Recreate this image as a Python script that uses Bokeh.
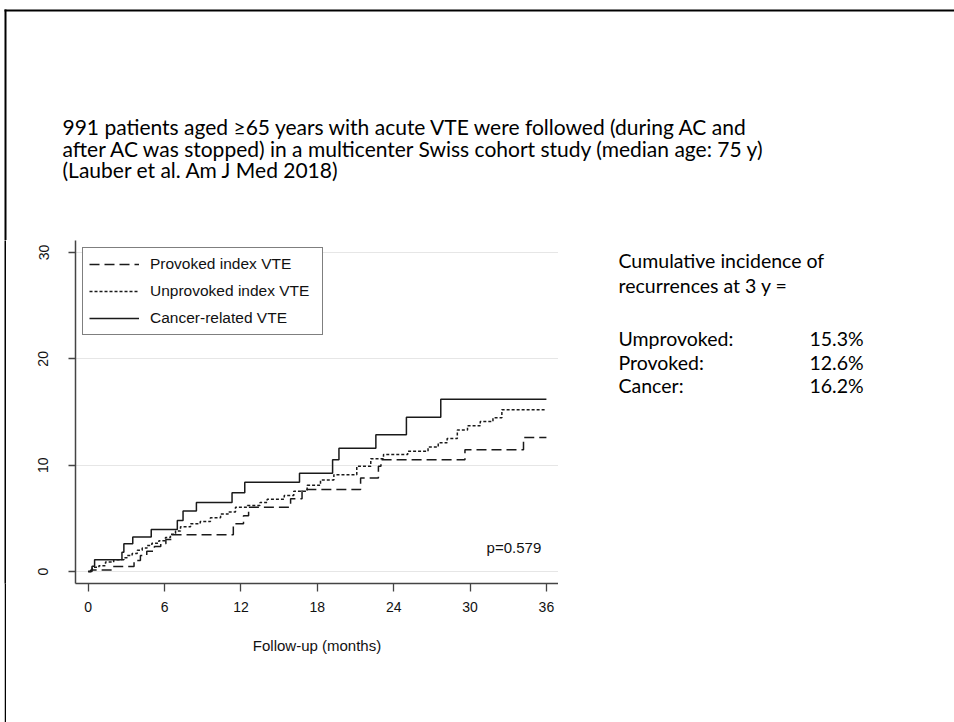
from bokeh.plotting import figure
from bokeh.layouts import column, row
from bokeh.models import Label, Legend, LegendItem, FixedTicker, Range1d, Spacer
from bokeh.embed import file_html
from bokeh.resources import INLINE

# ---------------- data ----------------
provoked_t = [0, 0.2, 1.9, 3.6, 4.1, 4.6, 5.2, 5.7, 6.1, 6.6, 11.4, 12.2, 12.6,
              15.9, 16.8, 21.4, 22.8, 23.0, 29.6, 34.2, 36.0]
provoked_v = [0, 0.15, 0.47, 1.03, 1.5, 1.9, 2.35, 2.6, 3.0, 3.45, 4.5, 5.25, 6.05,
              6.85, 7.7, 8.8, 9.9, 10.5, 11.45, 12.6, 12.6]

unprov_t = [0, 0.31, 0.84, 1.36, 2.0, 2.8, 3.06, 3.45, 3.85, 4.24, 4.63, 5.0, 5.55,
            6.07, 6.46, 6.86, 7.25, 8.04, 8.8, 9.6, 10.4, 11.0, 11.57, 12.5, 13.5,
            14.06, 15.4, 16.15, 17.2, 18.25, 19.3, 21.1, 22.2, 23.2, 25.1, 26.7,
            27.5, 28.2, 29.0, 29.8, 30.8, 31.8, 32.5, 36.0]
unprov_v = [0, 0.4, 0.55, 0.9, 1.1, 1.3, 1.5, 1.7, 2.0, 2.2, 2.45, 2.65, 2.9,
            3.2, 3.5, 3.8, 4.2, 4.5, 4.7, 5.05, 5.4, 5.6, 6.05, 6.2, 6.5,
            6.8, 7.15, 7.55, 8.1, 8.6, 9.1, 9.9, 10.6, 11.0, 11.3, 11.7,
            12.1, 12.5, 13.3, 13.7, 14.1, 14.45, 15.2, 15.2]

cancer_t = [0, 0.3, 0.5, 2.65, 2.8, 3.5, 4.95, 7.0, 7.45, 8.5, 11.3, 12.3, 16.6,
            19.2, 19.7, 22.6, 25.0, 27.7, 36.0]
cancer_v = [0, 0.5, 1.1, 1.8, 2.6, 3.25, 3.95, 4.8, 5.7, 6.5, 7.4, 8.4, 9.25,
            10.5, 11.6, 12.85, 14.5, 16.2, 16.2]

series_labels = ["Provoked index VTE", "Unprovoked index VTE", "Cancer-related VTE"]
x_ticks = [0, 6, 12, 18, 24, 30, 36]
y_ticks = [0, 10, 20, 30]
x_title = "Follow-up (months)"
p_value_text = "p=0.579"

intro_lines = [
    "991 patients aged \u226565 years with acute VTE were followed (during AC and",
    "after AC was stopped) in a multicenter Swiss cohort study (median age: 75 y)",
    "(Lauber et al. Am J Med 2018)",
]
side_heading = ["Cumulative incidence of", "recurrences at 3 y ="]
side_groups = ["Umprovoked:", "Provoked:", "Cancer:"]
side_values = ["15.3%", "12.6%", "16.2%"]

# ---------------- page geometry ----------------
W, H = 954, 722
TOP_H = 240                 # band above the chart
EDGE_X, EDGE_W = 4, 2       # page's left edge line
EDGE_Y = 9                  # page's top edge line
FL, FR, FB = 75, 558, 583   # chart frame (page pixels); frame top = TOP_H
X0, X1 = -1.0, 36.95
Y0, Y1 = -1.13, 31.13

TFONT = "Lato"
AFONT = "Liberation Sans"
AX = "#444444"
LC = "#1a1a1a"
TXT = "#111111"


def blank(width, height, xr, yr, bottom=0, fill="white"):
    f = figure(width=width, height=height, output_backend="svg",
               toolbar_location=None, x_range=Range1d(*xr), y_range=Range1d(*yr),
               x_axis_location=None, y_axis_location=None,
               min_border_left=0, min_border_right=0, min_border_top=0,
               min_border_bottom=bottom)
    f.grid.visible = False
    f.outline_line_color = None
    f.background_fill_color = fill
    f.border_fill_color = fill
    return f


# ---- top band: intro text + top / left page edges ----
top = blank(W, TOP_H, (0, W), (TOP_H, 0))
top.quad(left=[EDGE_X, EDGE_X], right=[W, EDGE_X + EDGE_W],
         top=[EDGE_Y, EDGE_Y], bottom=[EDGE_Y + 2, TOP_H],
         fill_color="black", line_color=None)
for i, line in enumerate(intro_lines):
    top.add_layout(Label(x=62, y=126 + 21.5 * i, text=line, text_font=TFONT,
                         text_font_size="21px", text_color="black",
                         text_align="left", text_baseline="middle"))

# ---- left edge continuation below the top band ----
gap = Spacer(width=EDGE_X, height=H - TOP_H)
edge = blank(EDGE_W, H - TOP_H, (0, 1), (0, 1), bottom=H - FB, fill="black")

# ---- chart ----
p = figure(width=FR - EDGE_X - EDGE_W, height=H - TOP_H, output_backend="svg",
           toolbar_location=None, x_range=Range1d(X0, X1), y_range=Range1d(Y0, Y1),
           min_border_left=FL - EDGE_X - EDGE_W, min_border_right=0,
           min_border_top=0, min_border_bottom=H - FB)
p.outline_line_color = None
p.background_fill_color = "white"
p.border_fill_color = "white"

p.xaxis.ticker = FixedTicker(ticks=x_ticks)
p.yaxis.ticker = FixedTicker(ticks=y_ticks)
for ax in (p.xaxis, p.yaxis):
    ax.axis_line_color = AX
    ax.axis_line_width = 1.5
    ax.major_tick_line_color = AX
    ax.major_tick_line_width = 1.3
    ax.major_tick_in = 0
    ax.minor_tick_line_color = None
    ax.major_label_text_font = AFONT
    ax.major_label_text_font_size = "14px"
    ax.major_label_text_color = TXT
p.xaxis.major_tick_out = 8
p.yaxis.major_tick_out = 7
p.xaxis.major_label_standoff = 10
p.yaxis.major_label_standoff = 20
p.yaxis.major_label_orientation = "vertical"
p.xaxis.axis_label = x_title
p.xaxis.axis_label_text_font = AFONT
p.xaxis.axis_label_text_font_size = "15px"
p.xaxis.axis_label_text_font_style = "normal"
p.xaxis.axis_label_text_color = TXT
p.xaxis.axis_label_standoff = 22

p.xgrid.visible = False
p.ygrid.grid_line_color = "#e6e6e6"
p.ygrid.grid_line_width = 1

r_prov = p.step(provoked_t, provoked_v, mode="after", line_color=LC,
                line_width=1.5, line_dash="10 5")
r_unpr = p.step(unprov_t, unprov_v, mode="after", line_color=LC,
                line_width=1.5, line_dash="3 2")
r_canc = p.step(cancer_t, cancer_v, mode="after", line_color=LC,
                line_width=1.5)

legend = Legend(items=[LegendItem(label=series_labels[0], renderers=[r_prov]),
                       LegendItem(label=series_labels[1], renderers=[r_unpr]),
                       LegendItem(label=series_labels[2], renderers=[r_canc])],
                location="top_left", margin=7, padding=6, spacing=7,
                glyph_width=50, glyph_height=20, label_height=20,
                label_width=166, label_standoff=11,
                label_text_font=AFONT, label_text_font_size="15.5px",
                label_text_color=TXT,
                border_line_color="black", border_line_width=1,
                background_fill_color="white", background_fill_alpha=1)
p.add_layout(legend)

p.add_layout(Label(x=31.3, y=2.3, text=p_value_text, text_font=AFONT,
                   text_font_size="15px", text_color=TXT,
                   text_align="left", text_baseline="middle"))

# ---- right band: cumulative incidence text (frame = page y 240..583) ----
right = blank(W - FR, H - TOP_H, (FR, W), (FB, TOP_H), bottom=H - FB)
for i, line in enumerate(side_heading):
    right.add_layout(Label(x=618, y=260 + 25 * i, text=line, text_font=TFONT,
                           text_font_size="19.5px", text_color="black",
                           text_align="left", text_baseline="middle"))
for i, (g, v) in enumerate(zip(side_groups, side_values)):
    right.add_layout(Label(x=618, y=338 + 23.5 * i, text=g, text_font=TFONT,
                           text_font_size="19.5px", text_color="black",
                           text_align="left", text_baseline="middle"))
    right.add_layout(Label(x=809, y=338 + 23.5 * i, text=v, text_font=TFONT,
                           text_font_size="19.5px", text_color="black",
                           text_align="left", text_baseline="middle"))

page = column(top, row(gap, edge, p, right, spacing=0), spacing=0)
open("out.html", "w").write(file_html(page, INLINE))
